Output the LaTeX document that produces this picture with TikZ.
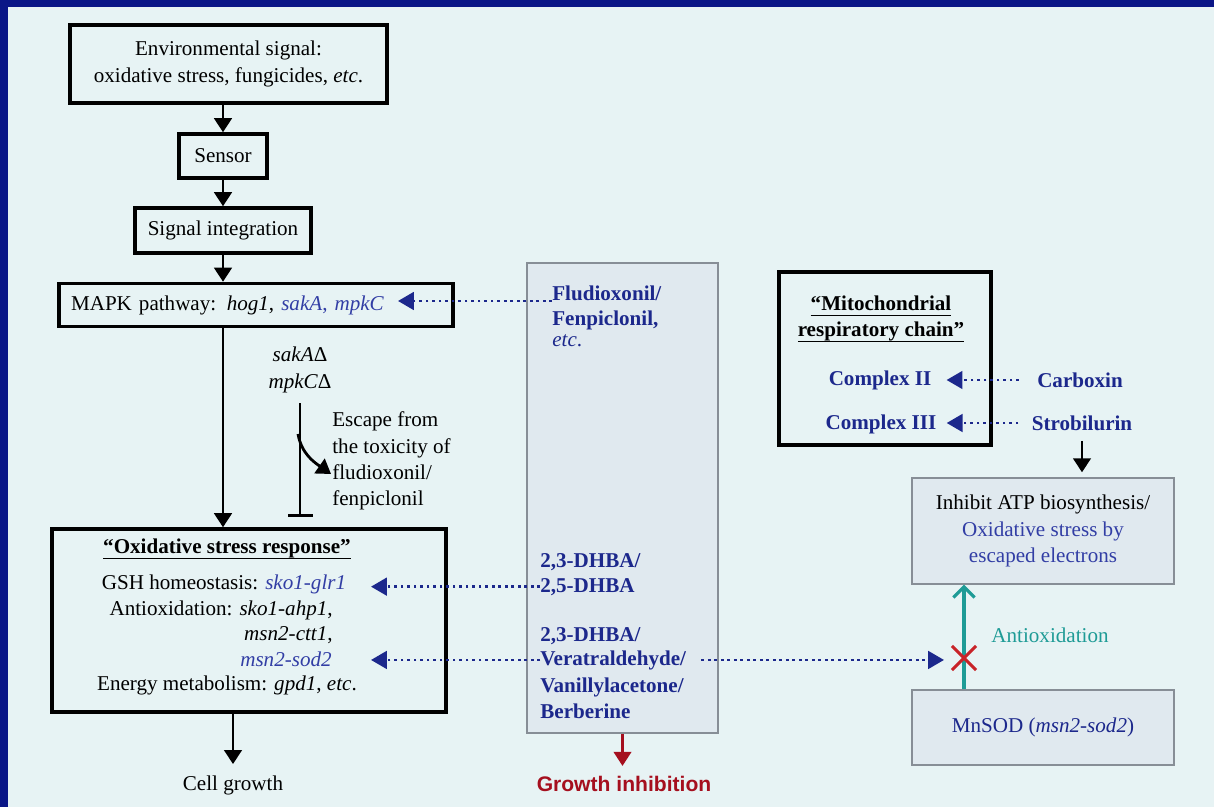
\documentclass[tikz,border=0pt]{standalone}
\usepackage{fontspec}
\setmainfont{Liberation Serif}
\newfontfamily\arialfont{Liberation Sans}
\usetikzlibrary{arrows.meta,shapes.misc}

\definecolor{navy}{RGB}{10,22,135}
\definecolor{bgblue}{RGB}{231,243,244}
\definecolor{drugblue}{RGB}{28,40,140}
\definecolor{geneblue}{RGB}{50,62,165}
\definecolor{greyfill}{RGB}{224,233,239}
\definecolor{greyline}{RGB}{135,142,150}
\definecolor{tealc}{RGB}{30,155,150}
\definecolor{inhred}{RGB}{165,15,30}
\definecolor{xred}{RGB}{200,35,40}

% underline at a fixed depth
\newcommand{\undl}[1]{\leavevmode\setbox0\hbox{#1}\rlap{\rule[-3pt]{\wd0}{0.6pt}}\box0}

\tikzset{
  blackbox/.style={draw=black, line width=2pt, inner sep=0pt, align=center},
  greybox/.style={draw=greyline, line width=0.8pt, fill=greyfill, inner sep=0pt, align=center},
  txt/.style={font=\fontsize{12}{15}\selectfont, inner sep=0pt},
  drug/.style={inner sep=0pt, font=\fontsize{12}{15}\selectfont\bfseries, text=drugblue},
  arr/.style={line width=1.6pt, -{Triangle[width=10pt,length=8pt]}},
  dotarr/.style={drugblue, line width=1.6pt, dash pattern=on 1.6pt off 2.1pt,
    -{Triangle[width=10pt,length=9pt]}},
}

\begin{document}
\begin{tikzpicture}[x=0.02cm, y=-0.02cm]
  % background and frame
  \fill[bgblue] (0,0) rectangle (1214,807);
  \fill[navy] (0,0) rectangle (1214,7);
  \fill[navy] (0,0) rectangle (8,807);
  \useasboundingbox (0,0) rectangle (1214,807);

  % signalling cascade
  \node[blackbox, txt, minimum width=6.34cm, minimum height=1.56cm] (env) at (228.5,64)
    {Environmental signal:\\ oxidative stress, fungicides, \textit{etc}.};
  \node[blackbox, txt, minimum width=1.76cm, minimum height=0.88cm] (sensor) at (223,156) {Sensor};
  \node[blackbox, txt, minimum width=3.52cm, minimum height=0.9cm] (integ) at (223,230.5) {Signal integration};
  \node[blackbox, txt, minimum width=7.88cm, minimum height=0.86cm, text width=7.4cm, align=left] (mapk) at (256,305)
    {MAPK pathway: \textit{hog1}, \textcolor{geneblue}{\textit{sakA}, \textit{mpkC}}};
  \draw[arr] (sensor.north |- env.south) -- (sensor.north);
  \draw[arr] (sensor) -- (integ);
  \draw[arr] (integ) -- (integ |- mapk.north);

  % oxidative stress response
  \node[blackbox, minimum width=7.88cm, minimum height=3.66cm] (oxid) at (249,620.5) {};
  \node[txt, font=\fontsize{12}{15}\selectfont\bfseries] (oxtitle) at (227,549)
    {\undl{“Oxidative stress response”}};
  \node[txt] (gsh) at (224,584) {GSH homeostasis: \textcolor{geneblue}{\textit{sko1-glr1}}};
  \node[txt, anchor=east] (antiox) at (333,610) {Antioxidation: \textit{sko1-ahp1},};
  \node[txt, anchor=east] (ctt) at (333,635) {\textit{msn2-ctt1},};
  \node[txt, anchor=east, text=geneblue] (sod) at (332,659) {\textit{msn2-sod2}};
  \node[txt] (energy) at (227,685) {Energy metabolism: \textit{gpd1}, \textit{etc}.};
  \draw[arr] (integ |- mapk.south) -- (integ |- oxid.north);

  \node[txt] (growth) at (233,785) {Cell growth};
  \draw[arr, shorten >=0.22cm] (growth |- oxid.south) -- (growth.north);

  % deletion mutants
  \node[txt, align=center] (mut) at (300,370) {\textit{sakA}Δ\\ \textit{mpkC}Δ};
  \draw[line width=1.6pt, -{Bar[width=0.5cm]}, shorten <=0.2cm, shorten >=0.2cm]
    (mut.south) -- (mut.south |- oxid.north);
  \node[txt, align=left, anchor=west] (escape) at (332,461)
    {Escape from\\ the toxicity of\\ fludioxonil/\\ fenpiclonil};
  \coordinate (branch) at (298,434);
  \coordinate (esctip) at (331,474);
  \draw[arr] (branch) to[out=-80, in=145] (esctip);

  % fungicides and chemosensitizers
  \node[greybox, minimum width=3.82cm, minimum height=9.4cm] (drugs) at (622.5,498) {};
  \node[drug, anchor=base west] (fludio) at (552,301) {Fludioxonil/};
  \node[drug, anchor=base west] (fenpi) at (552,326) {Fenpiclonil,};
  \node[txt, anchor=base west, text=drugblue] (etc) at (552,347) {\textit{etc}.};
  \node[drug, anchor=base west] (dhbaA) at (540,567) {2,3-DHBA/};
  \node[drug, anchor=base west] (dhbaB) at (540,592) {2,5-DHBA};
  \node[drug, anchor=base west] (dhbaC) at (540,641) {2,3-DHBA/};
  \node[drug, anchor=base west] (verat) at (540,665) {Veratraldehyde/};
  \node[drug, anchor=base west] (vanil) at (540,692) {Vanillylacetone/};
  \node[drug, anchor=base west] (berb) at (540,718) {Berberine};

  \coordinate (mapkin) at (398,301);
  \coordinate (genein) at (371,0);
  \draw[dotarr] (fludio.base west) -- (mapkin);
  \draw[dotarr] (dhbaB.west) -- (dhbaB.west -| genein);
  \draw[dotarr] (verat.west) -- (verat.west -| genein);

  \node[inner sep=0pt, font=\arialfont\bfseries\fontsize{12}{14}\selectfont, text=inhred] (inhib) at (624,784)
    {Growth inhibition};
  \draw[arr, inhred, line width=1.3pt, shorten >=0.2cm] (drugs.south) -- (drugs.south |- inhib.north);

  % mitochondrial respiratory chain
  \node[blackbox, minimum width=4.24cm, minimum height=3.46cm] (mito) at (885,358.5) {};
  \node[txt, font=\fontsize{12}{15}\selectfont\bfseries, align=center] (mitotitle) at (881,319)
    {\undl{“Mitochondrial}\\ \undl{respiratory chain”}};
  \node[drug] (cII) at (880,380) {Complex II};
  \node[drug] (cIII) at (881,424) {Complex III};
  \node[drug] (carbox) at (1080,380) {Carboxin};
  \node[drug] (strobi) at (1082,423) {Strobilurin};
  \draw[dotarr, shorten <=0.36cm, shorten >=0.3cm] (carbox.west) -- (carbox.west -| cII.east);
  \draw[dotarr, shorten <=0.26cm, shorten >=0.2cm] (strobi.west) -- (strobi.west -| cIII.east);

  \node[greybox, txt, minimum width=5.24cm, minimum height=2.12cm] (inhibit) at (1043,531)
    {Inhibit ATP biosynthesis/\\ \textcolor{geneblue}{Oxidative stress by}\\ \textcolor{geneblue}{escaped electrons}};
  \draw[arr, shorten <=0.2cm, shorten >=0.1cm] (strobi.south) -- (strobi.south |- inhibit.north);

  \node[greybox, txt, text=drugblue, minimum width=5.24cm, minimum height=1.5cm] (mnsod) at (1043,727.5)
    {MnSOD (\textit{msn2-sod2})};

  % blocked antioxidation
  \coordinate (xpos) at (964,658);
  \coordinate (xtip) at (944,0);
  \draw[tealc, line width=1.8pt, -{Straight Barb[length=6pt,width=12pt]}]
    (xpos |- mnsod.north) -- (xpos |- inhibit.south);
  \node[txt, text=tealc] (antilbl) at (1050,635) {Antioxidation};
  \draw[dotarr, shorten <=0.3cm] (verat.east) -- (verat.east -| xtip);
  \node[draw=xred, cross out, line width=1.8pt, minimum size=0.42cm, inner sep=0pt] (xmark) at (xpos) {};
\end{tikzpicture}
\end{document}
